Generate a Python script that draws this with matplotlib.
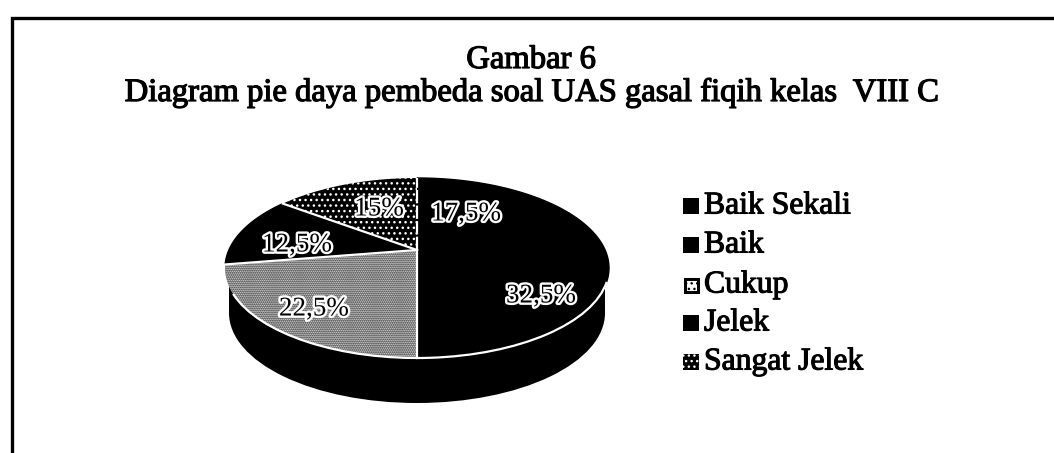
import numpy as np
import matplotlib
matplotlib.use("Agg")
import matplotlib.pyplot as plt
import matplotlib.patheffects as pe
from matplotlib.patches import Ellipse, Rectangle, Arc, Polygon

title_lines = ["Gambar 6", "Diagram pie daya pembeda soal UAS gasal fiqih kelas  VIII C"]
categories = ["Baik Sekali", "Baik", "Cukup", "Jelek", "Sangat Jelek"]
values = [17.5, 32.5, 22.5, 12.5, 15]
labels = ["17,5%", "32,5%", "22,5%", "12,5%", "15%"]

W, H = 1054, 453
plt.rcParams['font.family'] = ['Liberation Serif', 'DejaVu Serif']
plt.rcParams['hatch.linewidth'] = 1.0

fig = plt.figure(figsize=(W / 100, H / 100), dpi=100, facecolor='white')
ax = fig.add_axes([0, 0, 1, 1])
ax.set_xlim(0, W)
ax.set_ylim(H, 0)
ax.axis('off')

# tilted-pie geometry, in page pixels
cx, cy, rx, ry = 417, 268, 192, 90
depth = 45
apex_x, apex_y = 417, 250
STRETCH = 2.1


def rim_point(theta):
    """Where the ray for pie angle theta (clockwise from 12 o'clock) meets the rim."""
    dx, dy = STRETCH * np.sin(theta), -np.cos(theta)
    ox, oy = (apex_x - cx) / rx, (apex_y - cy) / ry
    a = (dx / rx) ** 2 + (dy / ry) ** 2
    b = 2 * (ox * dx / rx + oy * dy / ry)
    c = ox ** 2 + oy ** 2 - 1
    t = (-b + np.sqrt(b * b - 4 * a * c)) / (2 * a)
    return apex_x + t * dx, apex_y + t * dy


total = sum(values)
bounds = np.cumsum([0] + values) / total * 2 * np.pi

# side wall
ax.add_patch(Ellipse((cx, cy + depth), 2 * (rx - 4), 2 * ry, fc='black', ec='none', zorder=1))
ax.add_patch(Rectangle((cx - rx + 4, cy), 2 * (rx - 4), depth, fc='black', ec='none', zorder=1))

face = ['black', 'black', 'white', 'black', 'black']
edge = ['black', 'black', 'black', 'black', 'white']
hatch = [None, None, '........', None, '...']
width = [1, 1, 0, 1, 0]
for i in range(len(values)):
    th = np.linspace(bounds[i], bounds[i + 1], 80)
    pts = [(apex_x, apex_y)] + [rim_point(t) for t in th]
    ax.add_patch(Polygon(pts, closed=True, facecolor=face[i], edgecolor=edge[i],
                         hatch=hatch[i], linewidth=width[i], zorder=3))

# white separators (none between the first two black slices)
for i in [2, 3, 4]:
    px, py = rim_point(bounds[i])
    ax.plot([apex_x, px], [apex_y, py], color='white', lw=1.6, zorder=4)
px, py = rim_point(bounds[0])
ax.plot([apex_x, px], [apex_y, py], color='white', lw=1.6, zorder=4, linestyle=(0, (6, 1)))

# white rim along the front edge
ax.add_patch(Arc((cx, cy), 2 * rx, 2 * ry, theta1=4.2, theta2=172,
                 color='white', lw=1.6, zorder=5))

# frame of the scanned page
ax.plot([11.5, 11.5, W], [H, 17.5, 17.5], color='black', lw=2.4, zorder=6,
        solid_joinstyle='miter', solid_capstyle='butt')

# titles
for line, py in zip(title_lines, [68, 101]):
    ax.text(531, py, line, ha='center', va='baseline', fontsize=23.5, color='black',
            path_effects=[pe.withStroke(linewidth=0.9, foreground='black')], zorder=7)

# slice labels
label_xy = {"17,5%": (466, 214), "32,5%": (541, 296), "22,5%": (314, 309),
            "12,5%": (297, 245), "15%": (379, 209)}
for txt in labels:
    px, py = label_xy[txt]
    ax.text(px, py, txt, ha='center', va='center', fontsize=19.5, color='black', zorder=8,
            path_effects=[pe.withStroke(linewidth=3.4, foreground='white')])

# legend
legend_y = [206, 245, 285, 323, 362]
swatch_face = ['black', 'black', 'white', 'black', 'black']
swatch_hatch = [None, None, None, None, '...']
swatch_ec = ['black', 'black', 'black', 'black', 'white']
for name, py, fc_, ec_, h_ in zip(categories, legend_y, swatch_face, swatch_ec, swatch_hatch):
    ax.add_patch(Rectangle((683, py - 8), 16, 16, fc=fc_, ec=ec_, hatch=h_,
                           lw=0, zorder=7))
    if fc_ == 'white':
        ax.add_patch(Rectangle((684.5, py - 6.5), 13, 13, fc='white', ec='black', lw=2.2,
                               hatch='...', zorder=7))
    ax.text(704, py, name, ha='left', va='center', fontsize=22.8, color='black', zorder=7,
            path_effects=[pe.withStroke(linewidth=0.8, foreground='black')])

fig.savefig('out.png', dpi=100, facecolor='white')
